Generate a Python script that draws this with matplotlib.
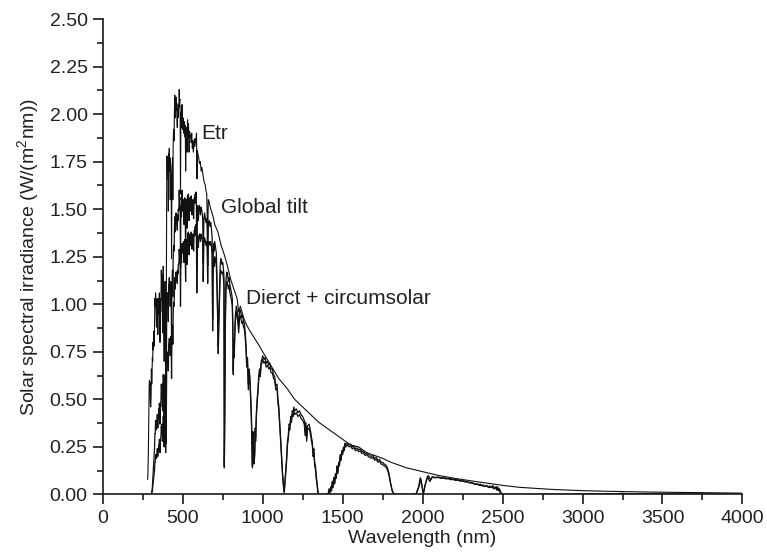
import matplotlib
matplotlib.use("Agg")
import matplotlib.pyplot as plt
from matplotlib.ticker import MultipleLocator

# ---------------- data ----------------
etr_wl = [280, 282, 285, 288, 290, 292, 294, 296, 298, 300, 302, 304, 306, 308, 310, 312, 314, 316, 318,
          320, 322, 324, 326, 328, 330, 332, 334, 336, 338, 340, 342, 344, 346, 348, 350, 352, 354, 356,
          358, 360, 362, 364, 366, 368, 370, 372, 374, 376, 378, 380, 382, 384, 386, 388, 390, 392, 393,
          395, 396, 398, 400, 402, 404, 406, 408, 410, 412, 414, 416, 418, 420, 422, 424, 426, 428, 430,
          432, 434, 436, 438, 440, 442, 444, 446, 448, 450, 452, 454, 456, 458, 460, 462, 464, 466, 468,
          470, 472, 474, 476, 478, 480, 482, 484, 486, 488, 490, 492, 494, 496, 498,
          500, 503, 506, 510, 513, 516, 518, 521, 524, 527, 530, 533, 536, 540, 543, 546, 550, 553, 556,
          560, 563, 566, 570, 573, 576, 580, 583, 586, 589, 592, 595, 600, 605, 610, 615, 620, 625, 630,
          635, 640, 645, 650, 656, 660, 665, 670, 675, 680, 690, 700, 720, 740, 760, 780, 800, 820, 840,
          850, 860, 880, 900, 920, 950, 980, 1000, 1050, 1100, 1150, 1200, 1250, 1300, 1350, 1400, 1450,
          1500, 1550, 1600, 1650, 1700, 1750, 1800, 1850, 1900, 1950, 2000, 2100, 2200, 2300, 2400, 2500,
          2600, 2800, 3000, 3200, 3400, 3600, 3800, 4000]
etr_val = [0.08, 0.10, 0.22, 0.41, 0.56, 0.60, 0.55, 0.59, 0.47, 0.46, 0.51, 0.66, 0.58, 0.63, 0.72, 0.70,
           0.80, 0.76, 0.84, 0.86, 0.78, 0.89, 1.03, 0.99, 1.06, 1.03, 0.96, 0.88, 0.98, 1.03, 1.02, 0.84,
           0.98, 0.95, 1.03, 1.01, 1.06, 0.97, 0.80, 1.03, 0.96, 1.03, 1.18, 1.11, 1.16, 1.00, 0.85, 1.08,
           1.20, 1.13, 0.86, 0.70, 0.96, 0.98, 1.12, 1.00, 0.55, 1.05, 0.68, 1.25, 1.68, 1.78, 1.70, 1.66,
           1.75, 1.49, 1.79, 1.78, 1.82, 1.70, 1.77, 1.55, 1.74, 1.70, 1.62, 1.24, 1.60, 1.70, 1.77, 1.55,
           1.83, 1.90, 1.92, 1.86, 2.01, 2.10, 1.98, 2.00, 2.07, 2.09, 2.02, 2.06, 1.98, 1.93, 2.03, 1.98,
           2.05, 2.03, 2.04, 2.13, 2.07, 2.08, 1.98, 1.58, 1.93, 2.01, 1.93, 2.03, 2.05, 1.97,
           1.92, 1.98, 1.90, 1.96, 1.88, 1.94, 1.70, 1.85, 1.93, 1.80, 1.97, 1.88, 1.95, 1.80, 1.91, 1.88,
           1.89, 1.85, 1.90, 1.82, 1.86, 1.80, 1.84, 1.87, 1.83, 1.87, 1.85, 1.90, 1.66, 1.81, 1.79, 1.77,
           1.74, 1.75, 1.70, 1.72, 1.69, 1.66, 1.64, 1.63, 1.60, 1.58, 1.35, 1.55, 1.54, 1.52, 1.50, 1.49,
           1.46, 1.42, 1.38, 1.31, 1.26, 1.20, 1.13, 1.08, 1.03, 0.96, 0.99, 0.93, 0.89, 0.86, 0.82, 0.78,
           0.75, 0.68, 0.61, 0.56, 0.50, 0.46, 0.42, 0.38, 0.35, 0.32, 0.29, 0.26, 0.25, 0.22, 0.205, 0.19,
           0.17, 0.155, 0.14, 0.13, 0.12, 0.10, 0.085, 0.072, 0.06, 0.048, 0.038, 0.027, 0.020, 0.016,
           0.013, 0.011, 0.009, 0.007]

glob_wl = [300, 302, 304, 306, 308, 310, 312, 314, 316, 318, 320, 322, 324, 326, 328, 330, 332, 334, 336,
           338, 340, 342, 344, 346, 348, 350, 352, 354, 356, 358, 360, 362, 364, 366, 368, 370, 372, 374,
           376, 378, 380, 382, 384, 386, 388, 390, 392, 393, 395, 396, 398, 400, 402, 404, 406, 408, 410,
           412, 414, 416, 418, 420, 422, 424, 426, 428, 430, 432, 434, 436, 438, 440, 442, 444, 446, 448,
           450, 452, 454, 456, 458, 460, 462, 464, 466, 468, 470, 472, 474, 476, 478, 480, 482, 484, 486,
           488, 490, 492, 494, 496, 498,
           500, 505, 508, 510, 513, 515, 518, 520, 523, 525, 527, 530, 533, 535, 538, 540, 543, 545, 548,
           550, 553, 555, 558, 560, 563, 565, 568, 570, 573, 575, 578, 580, 583, 585, 588, 590, 593, 595,
           598, 600, 605, 610, 615, 620, 625, 628, 632, 636, 640, 645, 650, 653, 656, 660, 665, 670, 675,
           680, 684, 687, 690, 694, 697, 700, 705, 710, 714, 718, 722, 726, 730, 734, 738, 742, 746, 750,
           754, 758, 760, 763, 766, 770, 775, 780, 785, 790, 795, 800, 805, 810, 813, 816, 819, 822, 826,
           830, 835, 840, 845, 850, 855, 860, 865, 870, 875, 880, 885, 890, 895, 900, 905, 910, 915, 920,
           925, 930, 933, 936, 939, 942, 945, 950, 953, 956, 960, 965, 970, 975, 980, 985, 990, 995,
           1000, 1008, 1015, 1022, 1030, 1038, 1045, 1052, 1060, 1068, 1075, 1082, 1090, 1095, 1100, 1105,
           1110, 1115, 1120, 1125, 1130, 1135, 1140, 1145, 1150, 1155, 1160, 1165, 1170, 1175, 1180, 1185,
           1190, 1195, 1200, 1210, 1220, 1230, 1240, 1250, 1260, 1265, 1270, 1275, 1280, 1290, 1300, 1305,
           1310, 1315, 1320, 1325, 1330, 1335, 1340, 1345, 1350,
           1400, 1410, 1415, 1420, 1425, 1430, 1435, 1440, 1445, 1450, 1455, 1460, 1465, 1470, 1475, 1480,
           1485, 1490, 1495, 1500, 1505, 1510, 1515, 1520, 1530, 1540, 1550, 1560, 1570, 1580, 1590, 1600,
           1610, 1620, 1630, 1640, 1650, 1660, 1670, 1680, 1690, 1700, 1710, 1720, 1730, 1740, 1750, 1760,
           1770, 1780, 1790, 1800, 1810, 1820, 1830,
           1940, 1960, 1975, 1985, 2000, 2005, 2015, 2035, 2050, 2060, 2080,
           2100, 2110, 2120, 2130, 2140, 2150, 2160, 2170, 2180, 2190, 2200, 2210, 2220, 2230, 2240, 2250,
           2260, 2270, 2280, 2290, 2300, 2310, 2320, 2330, 2340, 2350, 2360, 2370, 2380, 2390, 2400, 2410,
           2420, 2430, 2440, 2450, 2460, 2465, 2470, 2475, 2480, 2490, 2500,
           2900, 2950, 3000, 3050, 3100, 3150, 3200, 3250, 3300, 3350, 3400, 3450, 3500, 3550, 3600,
           3650, 3700, 3750, 3800, 3850, 3900, 4000]
glob_val = [0.001, 0.002, 0.006, 0.012, 0.02, 0.04, 0.07, 0.10, 0.12, 0.16, 0.20, 0.21, 0.25, 0.32, 0.32,
            0.39, 0.38, 0.37, 0.34, 0.38, 0.42, 0.42, 0.35, 0.41, 0.40, 0.45, 0.44, 0.48, 0.45, 0.37, 0.48,
            0.46, 0.50, 0.58, 0.55, 0.58, 0.51, 0.44, 0.56, 0.63, 0.60, 0.46, 0.38, 0.53, 0.54, 0.63, 0.57,
            0.32, 0.60, 0.39, 0.73, 0.99, 1.06, 1.02, 1.00, 1.06, 0.91, 1.10, 1.10, 1.14, 1.07, 1.12, 0.99,
            1.12, 1.10, 1.05, 0.81, 1.05, 1.13, 1.18, 1.04, 1.23, 1.29, 1.31, 1.28, 1.39, 1.46, 1.38, 1.41,
            1.46, 1.48, 1.44, 1.47, 1.42, 1.39, 1.47, 1.44, 1.50, 1.49, 1.50, 1.60, 1.55, 1.56, 1.48, 1.19,
            1.45, 1.52, 1.46, 1.56, 1.60, 1.52,
            1.49, 1.55, 1.42, 1.52, 1.56, 1.49, 1.30, 1.46, 1.55, 1.52, 1.40, 1.57, 1.50, 1.58, 1.52, 1.44,
            1.55, 1.56, 1.49, 1.54, 1.57, 1.53, 1.47, 1.52, 1.55, 1.50, 1.45, 1.52, 1.56, 1.53, 1.58, 1.55,
            1.59, 1.55, 1.18, 1.40, 1.52, 1.48, 1.44, 1.50, 1.52, 1.47, 1.51, 1.49, 1.45, 1.22, 1.44, 1.48,
            1.46, 1.43, 1.45, 1.40, 1.20, 1.43, 1.44, 1.41, 1.43, 1.39, 1.35, 0.92, 1.24, 1.32, 1.28, 1.33,
            1.30, 1.27, 1.15, 0.98, 0.78, 0.95, 1.08, 1.20, 1.24, 1.23, 1.21, 1.22, 1.19, 1.14, 0.15, 0.45,
            0.90, 1.12, 1.17, 1.16, 1.12, 1.14, 1.10, 1.08, 1.06, 1.03, 0.90, 0.65, 0.82, 0.75, 0.88, 0.95,
            0.99, 0.97, 0.93, 0.88, 0.96, 0.97, 0.95, 0.93, 0.94, 0.91, 0.90, 0.86, 0.80, 0.70, 0.72, 0.58,
            0.66, 0.62, 0.52, 0.40, 0.25, 0.15, 0.33, 0.27, 0.18, 0.22, 0.35, 0.30, 0.42, 0.50, 0.55, 0.62,
            0.66, 0.64, 0.70, 0.71,
            0.73, 0.71, 0.72, 0.69, 0.70, 0.68, 0.69, 0.66, 0.66, 0.63, 0.62, 0.57, 0.58, 0.50, 0.47, 0.40,
            0.33, 0.25, 0.18, 0.10, 0.05, 0.02, 0.08, 0.14, 0.20, 0.28, 0.31, 0.37, 0.36, 0.41, 0.40, 0.44,
            0.43, 0.46, 0.44, 0.45, 0.43, 0.44, 0.42, 0.41, 0.39, 0.33, 0.38, 0.30, 0.36, 0.37, 0.33, 0.30,
            0.28, 0.22, 0.24, 0.17, 0.15, 0.10, 0.06, 0.02, 0.0,
            0.0, 0.005, 0.03, 0.01, 0.04, 0.02, 0.07, 0.04, 0.09, 0.06, 0.11, 0.09, 0.15, 0.12, 0.17, 0.16,
            0.21, 0.19, 0.23, 0.22, 0.25, 0.24, 0.27, 0.26, 0.27, 0.26, 0.265, 0.25, 0.255, 0.24, 0.245,
            0.235, 0.24, 0.225, 0.23, 0.215, 0.22, 0.21, 0.205, 0.20, 0.205, 0.19, 0.195, 0.18, 0.185, 0.17,
            0.168, 0.16, 0.155, 0.14, 0.11, 0.06, 0.02, 0.005, 0.0,
            0.0, 0.005, 0.04, 0.088, 0.025, 0.005, 0.05, 0.10, 0.078, 0.093, 0.09,
            0.092, 0.088, 0.09, 0.086, 0.088, 0.084, 0.086, 0.082, 0.083, 0.079, 0.08, 0.077, 0.078, 0.074,
            0.075, 0.071, 0.072, 0.067, 0.068, 0.063, 0.065, 0.058, 0.06, 0.052, 0.057, 0.05, 0.055, 0.045,
            0.05, 0.042, 0.048, 0.038, 0.045, 0.036, 0.047, 0.03, 0.042, 0.025, 0.04, 0.02, 0.03, 0.01, 0.0,
            0.0, 0.002, 0.001, 0.004, 0.002, 0.005, 0.003, 0.006, 0.002, 0.004, 0.003, 0.005, 0.002, 0.004,
            0.003, 0.002, 0.003, 0.001, 0.002, 0.001, 0.001, 0.0]

dir_wl = [300, 302, 304, 306, 308, 310, 312, 314, 316, 318, 320, 322, 324, 326, 328, 330, 332, 334, 336,
          338, 340, 342, 344, 346, 348, 350, 352, 354, 356, 358, 360, 362, 364, 366, 368, 370, 372, 374,
          376, 378, 380, 382, 384, 386, 388, 390, 392, 393, 395, 396, 398, 400, 402, 404, 406, 408, 410,
          412, 414, 416, 418, 420, 422, 424, 426, 428, 430, 432, 434, 436, 438, 440, 442, 444, 446, 448,
          450, 452, 454, 456, 458, 460, 462, 464, 466, 468, 470, 472, 474, 476, 478, 480, 482, 484, 486,
          488, 490, 492, 494, 496, 498,
          500, 505, 508, 510, 513, 515, 518, 520, 523, 525, 527, 530, 533, 535, 538, 540, 543, 545, 548,
          550, 553, 555, 558, 560, 563, 565, 568, 570, 573, 575, 578, 580, 583, 585, 588, 590, 593, 595,
          598, 600, 605, 610, 615, 620, 625, 628, 632, 636, 640, 645, 650, 653, 656, 660, 665, 670, 675,
          680, 684, 687, 690, 694, 697, 700, 705, 710, 714, 718, 722, 726, 730, 734, 738, 742, 746, 750,
          754, 758, 760, 763, 766, 770, 775, 780, 785, 790, 795, 800, 805, 810, 813, 816, 819, 822, 826,
          830, 835, 840, 845, 850, 855, 860, 865, 870, 875, 880, 885, 890, 895, 900, 905, 910, 915, 920,
          925, 930, 933, 936, 939, 942, 945, 950, 953, 956, 960, 965, 970, 975, 980, 985, 990, 995,
          1000, 1008, 1015, 1022, 1030, 1038, 1045, 1052, 1060, 1068, 1075, 1082, 1090, 1095, 1100, 1105,
          1110, 1115, 1120, 1125, 1130, 1135, 1140, 1145, 1150, 1155, 1160, 1165, 1170, 1175, 1180, 1185,
          1190, 1195, 1200, 1210, 1220, 1230, 1240, 1250, 1260, 1265, 1270, 1275, 1280, 1290, 1300, 1305,
          1310, 1315, 1320, 1325, 1330, 1335, 1340, 1345, 1350,
          1400, 1410, 1415, 1420, 1425, 1430, 1435, 1440, 1445, 1450, 1455, 1460, 1465, 1470, 1475, 1480,
          1485, 1490, 1495, 1500, 1505, 1510, 1515, 1520, 1530, 1540, 1550, 1560, 1570, 1580, 1590, 1600,
          1610, 1620, 1630, 1640, 1650, 1660, 1670, 1680, 1690, 1700, 1710, 1720, 1730, 1740, 1750, 1760,
          1770, 1780, 1790, 1800, 1810, 1820, 1830,
          1940, 1960, 1975, 1990, 2000, 2005, 2015, 2030, 2045, 2060, 2080,
          2100, 2115, 2130, 2145, 2160, 2175, 2190, 2205, 2220, 2235, 2250, 2265, 2280, 2295, 2310, 2325,
          2340, 2355, 2370, 2385, 2400, 2415, 2430, 2445, 2455, 2465, 2475, 2485, 2500,
          2950, 3050, 3150, 3250, 3350, 3450, 3550, 3650, 3750, 3850, 4000]
dir_val = [0.0, 0.001, 0.003, 0.006, 0.01, 0.02, 0.035, 0.05, 0.06, 0.08, 0.10, 0.11, 0.13, 0.17, 0.17,
           0.21, 0.21, 0.20, 0.19, 0.21, 0.24, 0.24, 0.20, 0.24, 0.23, 0.26, 0.26, 0.29, 0.27, 0.22, 0.29,
           0.28, 0.31, 0.36, 0.34, 0.37, 0.32, 0.28, 0.36, 0.41, 0.39, 0.30, 0.25, 0.35, 0.36, 0.42, 0.38,
           0.22, 0.41, 0.27, 0.50, 0.69, 0.74, 0.72, 0.71, 0.75, 0.65, 0.79, 0.79, 0.82, 0.78, 0.82, 0.73,
           0.83, 0.82, 0.78, 0.61, 0.79, 0.85, 0.89, 0.79, 0.94, 0.99, 1.01, 0.99, 1.08, 1.14, 1.08, 1.11,
           1.15, 1.17, 1.14, 1.17, 1.13, 1.11, 1.18, 1.16, 1.21, 1.21, 1.22, 1.29, 1.26, 1.27, 1.22, 0.99,
           1.20, 1.26, 1.22, 1.30, 1.32, 1.28,
           1.27, 1.33, 1.22, 1.31, 1.34, 1.28, 1.12, 1.26, 1.34, 1.32, 1.21, 1.37, 1.31, 1.38, 1.33, 1.26,
           1.36, 1.37, 1.31, 1.35, 1.38, 1.35, 1.29, 1.34, 1.37, 1.33, 1.28, 1.35, 1.39, 1.36, 1.41, 1.38,
           1.42, 1.39, 1.06, 1.26, 1.36, 1.33, 1.30, 1.35, 1.37, 1.33, 1.37, 1.35, 1.32, 1.12, 1.31, 1.35,
           1.34, 1.31, 1.33, 1.29, 1.11, 1.32, 1.33, 1.31, 1.33, 1.30, 1.26, 0.86, 1.16, 1.24, 1.20, 1.25,
           1.23, 1.20, 1.09, 0.93, 0.74, 0.90, 1.03, 1.14, 1.18, 1.17, 1.16, 1.17, 1.14, 1.09, 0.14, 0.42,
           0.86, 1.07, 1.12, 1.11, 1.08, 1.10, 1.06, 1.04, 1.02, 0.99, 0.87, 0.63, 0.79, 0.72, 0.85, 0.92,
           0.96, 0.94, 0.90, 0.85, 0.93, 0.94, 0.92, 0.90, 0.91, 0.88, 0.87, 0.83, 0.77, 0.67, 0.69, 0.55,
           0.63, 0.59, 0.49, 0.37, 0.23, 0.14, 0.31, 0.25, 0.16, 0.20, 0.33, 0.28, 0.40, 0.48, 0.53, 0.60,
           0.64, 0.62, 0.68, 0.69,
           0.71, 0.69, 0.70, 0.67, 0.68, 0.66, 0.67, 0.64, 0.64, 0.61, 0.60, 0.55, 0.56, 0.48, 0.45, 0.38,
           0.31, 0.23, 0.16, 0.09, 0.04, 0.01, 0.07, 0.12, 0.18, 0.26, 0.29, 0.35, 0.34, 0.39, 0.38, 0.42,
           0.41, 0.44, 0.42, 0.43, 0.41, 0.42, 0.40, 0.39, 0.37, 0.31, 0.36, 0.28, 0.34, 0.35, 0.31, 0.28,
           0.26, 0.20, 0.22, 0.15, 0.13, 0.08, 0.05, 0.01, 0.0,
           0.0, 0.004, 0.025, 0.008, 0.035, 0.018, 0.065, 0.035, 0.085, 0.055, 0.10, 0.085, 0.14, 0.11,
           0.16, 0.15, 0.20, 0.18, 0.22, 0.21, 0.24, 0.23, 0.26, 0.25, 0.26, 0.25, 0.255, 0.24, 0.245, 0.23,
           0.235, 0.225, 0.23, 0.215, 0.22, 0.205, 0.21, 0.20, 0.195, 0.19, 0.195, 0.18, 0.185, 0.17, 0.175,
           0.16, 0.158, 0.15, 0.145, 0.13, 0.10, 0.055, 0.018, 0.004, 0.0,
           0.0, 0.004, 0.035, 0.08, 0.025, 0.004, 0.045, 0.095, 0.068, 0.09, 0.088,
           0.089, 0.085, 0.086, 0.082, 0.083, 0.078, 0.079, 0.074, 0.075, 0.07, 0.071, 0.066, 0.066, 0.06,
           0.061, 0.054, 0.055, 0.048, 0.05, 0.042, 0.046, 0.036, 0.042, 0.03, 0.038, 0.022, 0.032, 0.01,
           0.0,
           0.001, 0.003, 0.004, 0.002, 0.004, 0.003, 0.002, 0.003, 0.001, 0.001, 0.0]

x_ticks = [0, 500, 1000, 1500, 2000, 2500, 3000, 3500, 4000]
y_ticks = [0.00, 0.25, 0.50, 0.75, 1.00, 1.25, 1.50, 1.75, 2.00, 2.25, 2.50]

# ---------------- figure ----------------
plt.rcParams['font.family'] = ['Liberation Sans', 'DejaVu Sans']
plt.rcParams['mathtext.fontset'] = 'custom'
plt.rcParams['mathtext.rm'] = 'Liberation Sans'
plt.rcParams['mathtext.it'] = 'Liberation Sans:italic'

fig = plt.figure(figsize=(7.67, 5.60), dpi=100)
ax = fig.add_axes([0.134, 0.117, 0.834, 0.849])

line_col = '#111111'
ax.plot(etr_wl, etr_val, color=line_col, lw=0.8)
ax.plot(glob_wl, glob_val, color=line_col, lw=0.9)
ax.plot(dir_wl, dir_val, color=line_col, lw=0.9)

ax.text(614, 1.90, 'Etr', fontsize=15, va='center', ha='left', color='#222222')
ax.text(737, 1.51, 'Global tilt', fontsize=15, va='center', ha='left', color='#222222')
ax.text(894, 1.03, 'Dierct + circumsolar', fontsize=15, va='center', ha='left', color='#222222')

ax.set_xlim(0, 4000)
ax.set_ylim(0, 2.5)
ax.set_xticks(x_ticks)
ax.set_xticklabels([str(v) for v in x_ticks])
ax.set_yticks(y_ticks)
ax.set_yticklabels(['%.2f' % v for v in y_ticks])
ax.xaxis.set_minor_locator(MultipleLocator(250))
ax.yaxis.set_minor_locator(MultipleLocator(0.125))

for s in ['top', 'right']:
    ax.spines[s].set_visible(False)
for s in ['left', 'bottom']:
    ax.spines[s].set_linewidth(1.2)
    ax.spines[s].set_color('#1a1a1a')

ax.tick_params(which='major', direction='out', length=7, width=1.2, labelsize=14,
               colors='#1a1a1a', labelcolor='#222222', pad=4)
ax.tick_params(which='minor', direction='out', length=4, width=1.2, colors='#1a1a1a')

ax.set_xlabel('Wavelength (nm)', fontsize=14, color='#222222', labelpad=2)
ax.set_ylabel('Solar spectral irradiance (W/(m$^{2}$nm))', fontsize=14, color='#222222', labelpad=6)

fig.savefig('out.png', dpi=100)
